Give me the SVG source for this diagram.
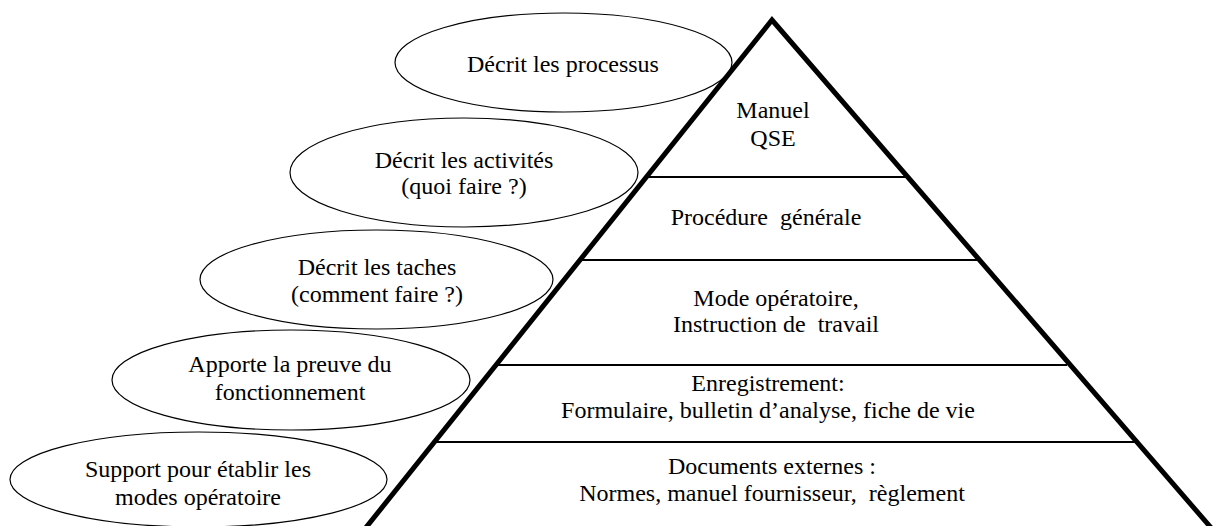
<svg xmlns="http://www.w3.org/2000/svg" width="1214" height="526" viewBox="0 0 1214 526">
  <style>
    .bubble { fill: #ffffff; stroke: #000000; stroke-width: 1.2; }
    text { font-size: 24px; fill: #000000; text-anchor: middle; white-space: pre; }
    .pyramid { fill: none; stroke: #000000; stroke-width: 5; stroke-linejoin: miter; }
    .tier { stroke: #000000; stroke-width: 2; }
  </style>
  <rect width="1214" height="526" fill="#ffffff"/>

  <g font-family="Liberation Serif, DejaVu Serif, serif">
  <!-- Explanatory bubbles on the left -->
  <g id="bubble-processus">
    <ellipse class="bubble" cx="563.5" cy="62.5" rx="168.5" ry="49.5"/>
    <text x="563" y="72">Décrit les processus</text>
  </g>
  <g id="bubble-activites">
    <ellipse class="bubble" cx="464" cy="172.5" rx="174" ry="54.5"/>
    <text x="464" y="168">Décrit les activités</text>
    <text x="464" y="194">(quoi faire ?)</text>
  </g>
  <g id="bubble-taches">
    <ellipse class="bubble" cx="376.5" cy="279.5" rx="176.5" ry="49.5"/>
    <text x="377" y="275">Décrit les taches</text>
    <text x="377" y="302">(comment faire ?)</text>
  </g>
  <g id="bubble-preuve">
    <ellipse class="bubble" cx="291" cy="380" rx="179" ry="50"/>
    <text x="290" y="372">Apporte la preuve du</text>
    <text x="290" y="400">fonctionnement</text>
  </g>
  <g id="bubble-support">
    <ellipse class="bubble" cx="198.5" cy="479.5" rx="188.5" ry="47.5"/>
    <text x="198" y="477">Support pour établir les</text>
    <text x="198" y="505">modes opératoire</text>
  </g>

  <!-- Document pyramid outline and tier dividers -->
  <g id="pyramid">
    <polyline class="pyramid" points="364,530 772,20 1213,530"/>
    <line class="tier" x1="647" y1="177" x2="907" y2="177"/>
    <line class="tier" x1="581" y1="260" x2="978" y2="260"/>
    <line class="tier" x1="497" y1="365" x2="1067" y2="365"/>
    <line class="tier" x1="436" y1="442" x2="1135" y2="442"/>
  </g>

  <g id="tier-manuel">
    <text x="773" y="118">Manuel</text>
    <text x="773" y="146">QSE</text>
  </g>
  <g id="tier-procedure">
    <text x="766" y="225">Procédure  générale</text>
  </g>
  <g id="tier-mode">
    <text x="776" y="306">Mode opératoire,</text>
    <text x="776" y="332">Instruction de  travail</text>
  </g>
  <g id="tier-enregistrement">
    <text x="768" y="391">Enregistrement:</text>
    <text x="768" y="418">Formulaire, bulletin d’analyse, fiche de vie</text>
  </g>
  <g id="tier-externes">
    <text x="772" y="474">Documents externes :</text>
    <text x="772" y="501">Normes, manuel fournisseur,  règlement</text>
  </g>
  </g>
</svg>
